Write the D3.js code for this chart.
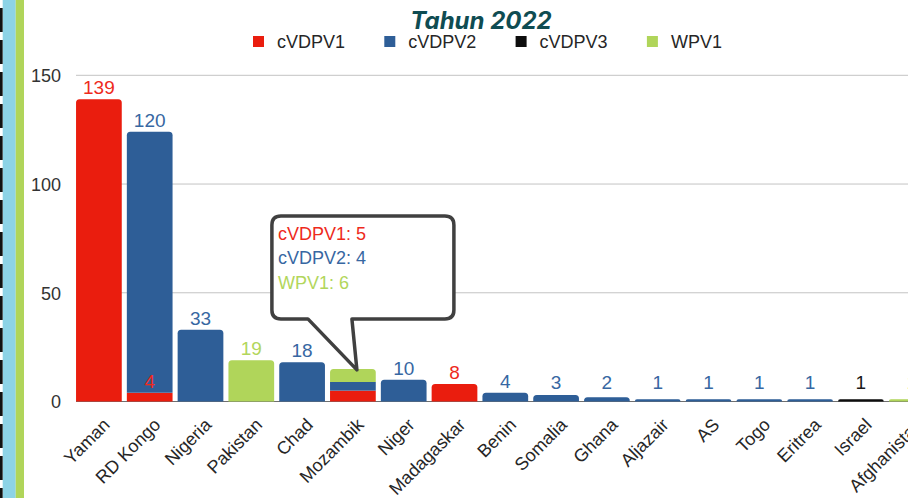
<!DOCTYPE html>
<html><head><meta charset="utf-8">
<script src="https://cdn.jsdelivr.net/npm/d3@7"></script>
<style>body{margin:0;background:#fff;overflow:hidden;} svg{display:block;}</style>
</head><body><svg id="c" width="908" height="498"></svg>
<script>
// ---- data ----
const categories = ["Yaman","RD Kongo","Nigeria","Pakistan","Chad","Mozambik","Niger","Madagaskar","Benin","Somalia","Ghana","Aljazair","AS","Togo","Eritrea","Israel","Afghanistan"];
const seriesNames = ["cVDPV1","cVDPV2","cVDPV3","WPV1"];
const cVDPV1 = [139,4,0,0,0,5,0,8,0,0,0,0,0,0,0,0,0];
const cVDPV2 = [0,120,33,0,18,4,10,0,4,3,2,1,1,1,1,0,0];
const cVDPV3 = [0,0,0,0,0,0,0,0,0,0,0,0,0,0,0,1,0];
const WPV1   = [0,0,0,19,0,6,0,0,0,0,0,0,0,0,0,0,1];
const yTicks = [0,50,100,150];
const titleText = "Tahun 2022";
const calloutCategory = "Mozambik";

// ---- styles ----
const colors = {cVDPV1:"#ea1d0e", cVDPV2:"#2e5e97", cVDPV3:"#0d0d0d", WPV1:"#b0d55a"};
const labelColors = {cVDPV1:"#ee2a1c", cVDPV2:"#3767a2", cVDPV3:"#1a1a1a", WPV1:"#b2d65c"};
const FONT = "'Liberation Sans', Arial, sans-serif";

const seriesData = {cVDPV1, cVDPV2, cVDPV3, WPV1};
const rows = categories.map((c,i)=>{
  const r = {category:c};
  seriesNames.forEach(s=> r[s] = seriesData[s][i]);
  return r;
});
const totals = rows.map(r=> d3.sum(seriesNames, s=> r[s]));
const stack = d3.stack().keys(seriesNames)(rows);

const svg = d3.select("#c");

// left decoration
svg.append("rect").attr("x",2.7).attr("y",0).attr("width",13).attr("height",498).attr("fill","#8dd3e6");
svg.append("rect").attr("x",15.7).attr("y",0).attr("width",8.3).attr("height",498).attr("fill","#b0d55a");
svg.append("line").attr("x1",1.3).attr("x2",1.3).attr("y1",0).attr("y2",498)
  .attr("stroke","#111").attr("stroke-width",2.7).attr("stroke-dasharray","24 8").attr("stroke-dashoffset",24);

// scales
const x = d3.scaleBand().domain(categories).range([73.5, 937.1]).paddingInner(0.1).paddingOuter(0.05);
const y = d3.scaleLinear().domain([0,150]).range([401.5, 75.3]);

// gridlines
svg.append("g").selectAll("line").data(yTicks.filter(t=>t>0)).join("line")
  .attr("x1",76).attr("x2",908).attr("y1",d=>y(d)).attr("y2",d=>y(d))
  .attr("stroke","#c4c4c4").attr("stroke-width",1);

// y axis labels via d3 axis
const yAxis = d3.axisLeft(y).tickValues(yTicks).tickSize(0).tickPadding(0);
const ya = svg.append("g").attr("transform","translate(61,0)").call(yAxis);
ya.select(".domain").remove();
ya.selectAll("text").attr("font-family",FONT).attr("font-size",18).attr("fill","#333").attr("dy","0.36em");

// baseline
svg.append("line").attr("x1",76).attr("x2",908).attr("y1",y(0)).attr("y2",y(0))
  .attr("stroke","#6f6f6f").attr("stroke-width",1.2);

function topRounded(x0,y0,w,h,r){
  r = Math.min(r,h,w/2);
  return `M${x0},${y0+h}V${y0+r}Q${x0},${y0} ${x0+r},${y0}H${x0+w-r}Q${x0+w},${y0} ${x0+w},${y0+r}V${y0+h}Z`;
}

// bars
const gBars = svg.append("g");
stack.forEach(layer=>{
  const key = layer.key;
  layer.forEach((d,i)=>{
    const v = d[1]-d[0];
    if (v<=0) return;
    const cat = categories[i];
    const x0 = x(cat), w = x.bandwidth();
    const yTop = y(d[1]), yBot = y(d[0]);
    const isTop = d[1] === totals[i];
    if (isTop) {
      gBars.append("path").attr("d", topRounded(x0,yTop,w,yBot-yTop,3.5)).attr("fill",colors[key]);
    } else {
      gBars.append("rect").attr("x",x0).attr("y",yTop).attr("width",w).attr("height",yBot-yTop).attr("fill",colors[key]);
    }
  });
});

// value labels
const gLab = svg.append("g");
stack.forEach(layer=>{
  const key = layer.key;
  layer.forEach((d,i)=>{
    const v = d[1]-d[0];
    if (v<=0) return;
    const cat = categories[i];
    if (cat === calloutCategory) return;
    const ly = Math.min(y(d[1]) - 5, y(0) - 13);
    gLab.append("text").attr("x", x(cat)+x.bandwidth()/2).attr("y", ly)
      .attr("text-anchor","middle").attr("font-family",FONT).attr("font-size",19)
      .attr("fill",labelColors[key]).text(v);
  });
});

// category labels
const gCat = svg.append("g");
categories.forEach(c=>{
  const cx = x(c)+x.bandwidth()/2 + 12, cy = 426;
  gCat.append("text").attr("transform",`translate(${cx},${cy}) rotate(-45)`)
    .attr("text-anchor","end").attr("font-family",FONT).attr("font-size",18).attr("fill","#262626").text(c);
});

// callout
const ci = categories.indexOf(calloutCategory);
const tipX = x(calloutCategory)+x.bandwidth()/2 + 4, tipY = y(totals[ci]) + 1;
const bl = tipX-85, br = tipX+97, bt = tipY-154, bb = tipY-51, rr = 9;
const tl = tipX-49, tr = tipX-5;
const cp = `M${bl+rr},${bt}H${br-rr}Q${br},${bt} ${br},${bt+rr}V${bb-rr}Q${br},${bb} ${br-rr},${bb}H${tr}L${tipX},${tipY}L${tl},${bb}H${bl+rr}Q${bl},${bb} ${bl},${bb-rr}V${bt+rr}Q${bl},${bt} ${bl+rr},${bt}Z`;
svg.append("path").attr("d",cp).attr("fill","#fff").attr("stroke","#404040").attr("stroke-width",3.5).attr("stroke-linejoin","round");
let line = 0;
seriesNames.forEach(s=>{
  const v = seriesData[s][ci];
  if (!v) return;
  svg.append("text").attr("x",bl+6).attr("y",bt+24+line*24.5).attr("font-family",FONT).attr("font-size",18)
    .attr("fill",labelColors[s]).text(`${s}: ${v}`);
  line++;
});

// title
svg.append("text").attr("x",481).attr("y",29).attr("text-anchor","middle")
  .attr("font-family","Inter, 'Open Sans', sans-serif").attr("font-style","italic").attr("font-weight",700)
  .attr("font-size",24).attr("fill","#0f4c52").text(titleText);

// legend
const lg = svg.append("g");
seriesNames.forEach((s,i)=>{
  const lx = 253 + i*131.3;
  lg.append("rect").attr("x",lx).attr("y",36).attr("width",11).attr("height",11).attr("fill",colors[s]);
  lg.append("text").attr("x",lx+24).attr("y",48).attr("font-family",FONT).attr("font-size",18).attr("fill","#262626").text(s);
});
</script>
</body></html>
